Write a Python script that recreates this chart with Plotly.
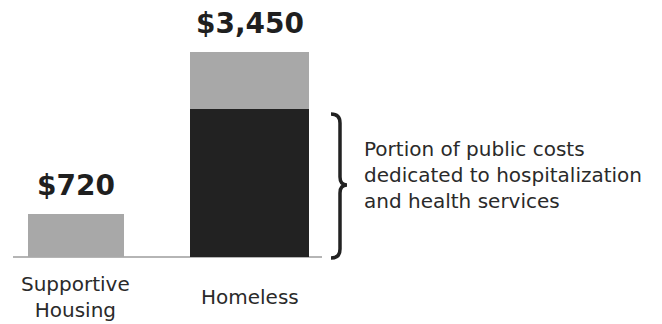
import plotly.graph_objects as go

# ---- data ----
categories = ["Supportive Housing", "Homeless"]
cat_labels = ["Supportive<br>Housing", "Homeless"]
total_cost = [720, 3450]
health_cost = [0, 2490]          # portion for hospitalization & health services
value_labels = ["$720", "$3,450"]
other_cost = [t - h for t, h in zip(total_cost, health_cost)]

W, H = 662, 324
bar_widths = [0.555, 0.685]

fig = go.Figure()
fig.add_trace(go.Bar(x=categories, y=health_cost, width=bar_widths,
                     marker=dict(color="#222222", line=dict(width=0)),
                     hoverinfo="skip"))
fig.add_trace(go.Bar(x=categories, y=other_cost, width=bar_widths,
                     marker=dict(color="#a8a8a8", line=dict(width=0)),
                     hoverinfo="skip"))

def px(x):
    return x / W

def py(y):
    return 1 - y / H

annotations = []
for c, t, lab in zip(categories, total_cost, value_labels):
    annotations.append(dict(x=c, y=t, xref="x", yref="y", text=lab,
                            showarrow=False, yanchor="bottom", yshift=10,
                            font=dict(family="DejaVu Sans", size=28,
                                      color="#1f1f1f", weight="bold")))
for c, lab in zip(categories, cat_labels):
    annotations.append(dict(x=c, y=py(297), xref="x", yref="paper", text=lab,
                            showarrow=False, yanchor="middle",
                            font=dict(family="DejaVu Sans", size=20,
                                      color="#2a2a2a")))
annotations.append(dict(x=px(362), y=py(175), xref="paper", yref="paper",
                        text="Portion of public costs<br>dedicated to hospitalization<br>and health services",
                        align="left", xanchor="left", yanchor="middle",
                        showarrow=False,
                        font=dict(family="DejaVu Sans", size=20, color="#2a2a2a")))

def P(x, y):
    return f"{px(x):.5f},{py(y):.5f}"

bracket = ("M " + P(331, 114) + " Q " + P(340, 114) + " " + P(340, 123) +
           " L " + P(340, 177) + " Q " + P(340, 185) + " " + P(347, 185) +
           " Q " + P(340, 185) + " " + P(340, 193) +
           " L " + P(340, 249) + " Q " + P(340, 258) + " " + P(331, 258))

shapes = [
    dict(type="line", xref="paper", yref="paper", x0=px(13), x1=px(322),
         y0=py(257), y1=py(257), line=dict(color="#b5b5b5", width=2),
         layer="below"),
    dict(type="path", xref="paper", yref="paper", path=bracket,
         line=dict(color="#222222", width=3.5)),
]

fig.update_layout(
    width=W, height=H, barmode="stack", bargap=0,
    margin=dict(l=0, r=0, t=0, b=0),
    paper_bgcolor="white", plot_bgcolor="white",
    showlegend=False,
    xaxis=dict(range=[-0.4372, 3.376], visible=False),
    yaxis=dict(range=[-1136, 4332.5], visible=False),
    annotations=annotations, shapes=shapes,
)

fig.write_html("out.html")
